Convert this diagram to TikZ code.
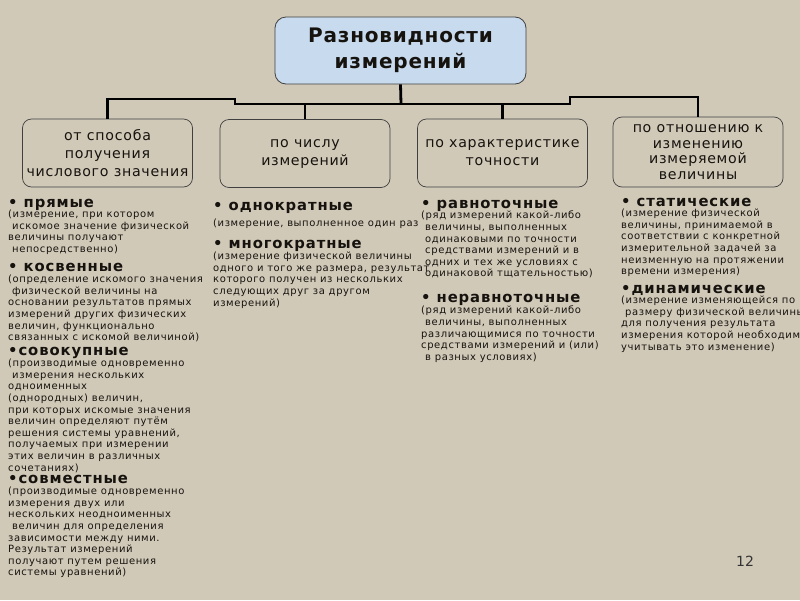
\documentclass[tikz,border=0pt]{standalone}
\usepackage{fontspec}
\setmainfont{DejaVu Sans}
\newfontfamily\smallf[LetterSpace=6]{DejaVu Sans}
\newfontfamily\headf[LetterSpace=5]{DejaVu Sans}
\newfontfamily\titlef[LetterSpace=4]{DejaVu Sans}
\definecolor{bgcol}{RGB}{209,201,184}
\definecolor{titlefill}{RGB}{200,218,238}
\definecolor{ink}{RGB}{22,19,15}
\tikzset{
  conn/.style={line width=2.8pt, black, line join=miter},
  catbox/.style={draw=black!75, line width=0.7pt, rounded corners=9pt, minimum width=170pt, minimum height=68pt, inner sep=0pt, align=center, text=ink, font=\headf\fontsize{14.2}{18}\selectfont},
  headitem/.style={anchor=base west, inner sep=0pt, align=left, text=ink, font=\smallf\bfseries\fontsize{14.8}{17}\selectfont},
  descitem/.style={anchor=north west, inner sep=0pt, align=left, text=ink, font=\smallf\fontsize{10}{11.6}\selectfont, execute at begin node=\strut},
}
\newcommand{\ind}{\hspace*{4pt}}
\begin{document}
\begin{tikzpicture}[x=1pt,y=-1pt]
\useasboundingbox (0,0) rectangle (800,600);
\fill[bgcol] (0,0) rectangle (800,600);
\clip (0,0) rectangle (800,600);

% title
\node[draw=black!75, line width=0.8pt, fill=titlefill, rounded corners=11pt, minimum width=251pt, minimum height=67pt, inner sep=0pt, align=center, text=ink, font=\titlef\bfseries\fontsize{20}{25.5}\selectfont] (title) at (400.5,50.5) {\raisebox{-2pt}{Разновидности}\\\raisebox{-2pt}{измерений}};

% category boxes
\node[catbox] (b1) at (107.5,153) {от способа\\получения\\числового значения};
\node[catbox] (b2) at (305,153.5) {по числу\\измерений};
\node[catbox] (b3) at (502.5,153) {по характеристике\\точности};
\node[catbox, minimum height=70pt, font=\headf\fontsize{14.2}{15.6}\selectfont] (b4) at (698,152) {по отношению к\\изменению\\измеряемой\\величины};

% connectors
\coordinate (j) at (401,104);
\coordinate (k1) at (235,99);
\coordinate (k4) at (570,97);
\draw[conn] (title.south) -- (j);
\draw[conn] (j) -| (k1) -| (b1.north);
\draw[conn] (j) -| (b2.north);
\draw[conn] (j) -| (b3.north);
\draw[conn] (j) -| (k4) -| (b4.north);

% column 1
\node[headitem] (h11) at (8,207) {• прямые};
\node[descitem] (d11) at (8,209.9) {(измерение, при котором\\\ind искомое значение физической\\величины получают\\\ind непосредственно)};
\node[headitem] (h12) at (8,271) {• косвенные};
\node[descitem] (d12) at (8,274.9) {(определение искомого значения\\\ind физической величины на\\основании результатов прямых\\измерений других физических\\величин, функционально\\связанных с искомой величиной)};
\node[headitem] (h13) at (8,355) {•совокупные};
\node[descitem] (d13) at (8,358.9) {(производимые одновременно\\\ind измерения нескольких\\одноименных\\(однородных) величин,\\при которых искомые значения\\величин определяют путём\\решения системы уравнений,\\получаемых при измерении\\этих величин в различных\\сочетаниях)};
\node[headitem] (h14) at (8,483) {•совместные};
\node[descitem] (d14) at (8,486.9) {(производимые одновременно\\измерения двух или\\нескольких неодноименных\\\ind величин для определения\\зависимости между ними.\\Результат измерений\\получают путем решения\\системы уравнений)};

% column 2
\node[headitem] (h21) at (213,210) {• однократные};
\node[descitem] (d21) at (213,217.9) {(измерение, выполненное один раз};
\node[headitem] (h22) at (213,248) {• многократные};
\node[descitem] (d22) at (213,251.9) {(измерение физической величины\\одного и того же размера, результат\\которого получен из нескольких\\следующих друг за другом\\измерений)};

% column 3
\node[headitem] (h31) at (421,208) {• равноточные};
\node[descitem] (d31) at (421,210.9) {(ряд измерений какой-либо\\\ind величины, выполненных\\\ind одинаковыми по точности\\\ind средствами измерений и в\\\ind одних и тех же условиях с\\\ind одинаковой тщательностью)};
\node[headitem] (h32) at (421,302) {• неравноточные};
\node[descitem] (d32) at (421,305.9) {(ряд измерений какой-либо\\\ind величины, выполненных\\различающимися по точности\\средствами измерений и (или)\\\ind в разных условиях)};

% column 4
\node[headitem] (h41) at (621,206) {• статические};
\node[descitem] (d41) at (621,208.9) {(измерение физической\\величины, принимаемой в\\соответствии с конкретной\\измерительной задачей за\\неизменную на протяжении\\времени измерения)};
\node[headitem] (h42) at (621,293) {•динамические};
\node[descitem] (d42) at (621,295.9) {(измерение изменяющейся по\\\ind размеру физической величины\\для получения результата\\измерения которой необходимо\\учитывать это изменение)};

% page number
\node[inner sep=0pt, text=black!80, font=\fontsize{14}{16}\selectfont] (pg) at (745,561) {12};
\end{tikzpicture}
\end{document}
